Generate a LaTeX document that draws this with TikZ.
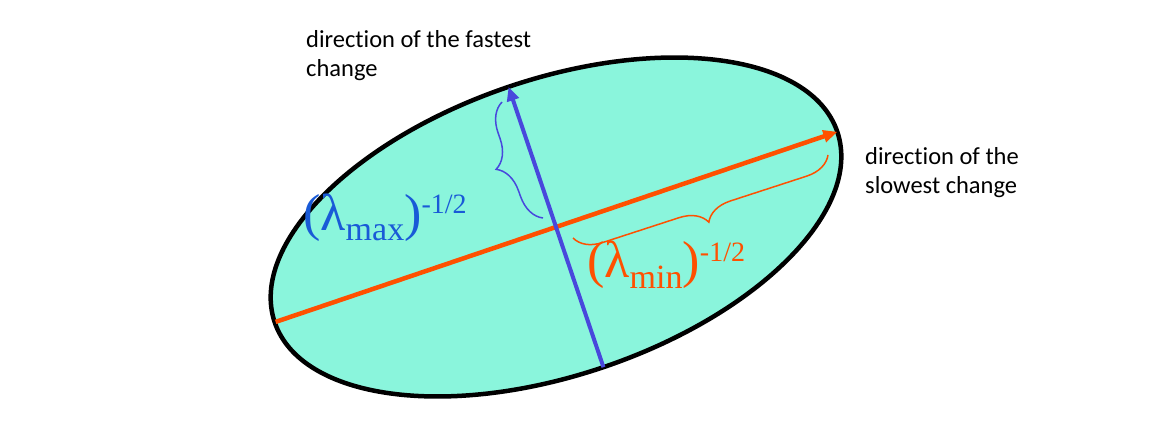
\documentclass[tikz,border=0pt]{standalone}
\usepackage{fontspec}
\setmainfont{Carlito}[Ligatures=NoCommon]
\newfontfamily\timesf{Liberation Serif}
\usetikzlibrary{calc,arrows.meta,decorations.pathreplacing}
\definecolor{fillc}{RGB}{138,245,220}
\definecolor{blueline}{RGB}{72,72,220}
\definecolor{bluetext}{RGB}{25,90,215}
\definecolor{orangec}{RGB}{255,80,0}
\begin{document}
\begin{tikzpicture}[x=1pt,y=1pt,
  desc/.style={font=\fontsize{24.5}{29}\selectfont, align=left, anchor=base west, inner sep=0pt, text=black},
  mathlbl/.style={font=\timesf\fontsize{52}{52}\selectfont, anchor=base west, inner sep=0pt},
  axis/.style={line width=4.5pt},
  bracestyle/.style={line width=1.5pt, decorate, decoration={brace, amplitude=#1}},
  tip/.style={-{Triangle[length=14pt,width=12pt]}}
]
\useasboundingbox (0,0) rectangle (1172,432);
\coordinate (c) at (556,205);
\draw[line width=4.5pt, fill=fillc, rotate around={18.7:(c)}] (c) ellipse [x radius=297, y radius=148];
\coordinate (oL) at ($(c)+(198.7:296)$);
\coordinate (oR) at ($(c)+(18.7:297)$);
\coordinate (bB) at ($(c)+(-71.3:148)$);
\coordinate (bT) at ($(c)+(108.7:148)$);
\draw[axis, orangec, tip] (oL) -- (oR);
\draw[axis, line width=4pt, blueline, tip] (bB) -- (bT);
\coordinate (bb1) at (543,214);
\coordinate (bb2) at (502,330);
\draw[bracestyle=28pt, blueline] (bb1) -- (bb2);
\coordinate (ob1) at (828,277);
\coordinate (ob2) at (573,194);
\draw[bracestyle=27pt, orangec] (ob1) -- (ob2);
\node[desc] (fast) at (306,355) {direction of the fastest\\change};
\node[desc] (slow) at (865,239) {direction of the\\slowest change};
\node[mathlbl, text=bluetext] (lmax) at (303,202) {(λ\raisebox{-10pt}{\fontsize{34}{34}\selectfont max})\raisebox{17pt}{\fontsize{28}{28}\selectfont -1/2}};
\node[mathlbl, text=orangec] (lmin) at (587,155) {(λ\raisebox{-11pt}{\fontsize{34}{34}\selectfont min})\raisebox{16pt}{\fontsize{28}{28}\selectfont -1/2}};
\end{tikzpicture}
\end{document}
